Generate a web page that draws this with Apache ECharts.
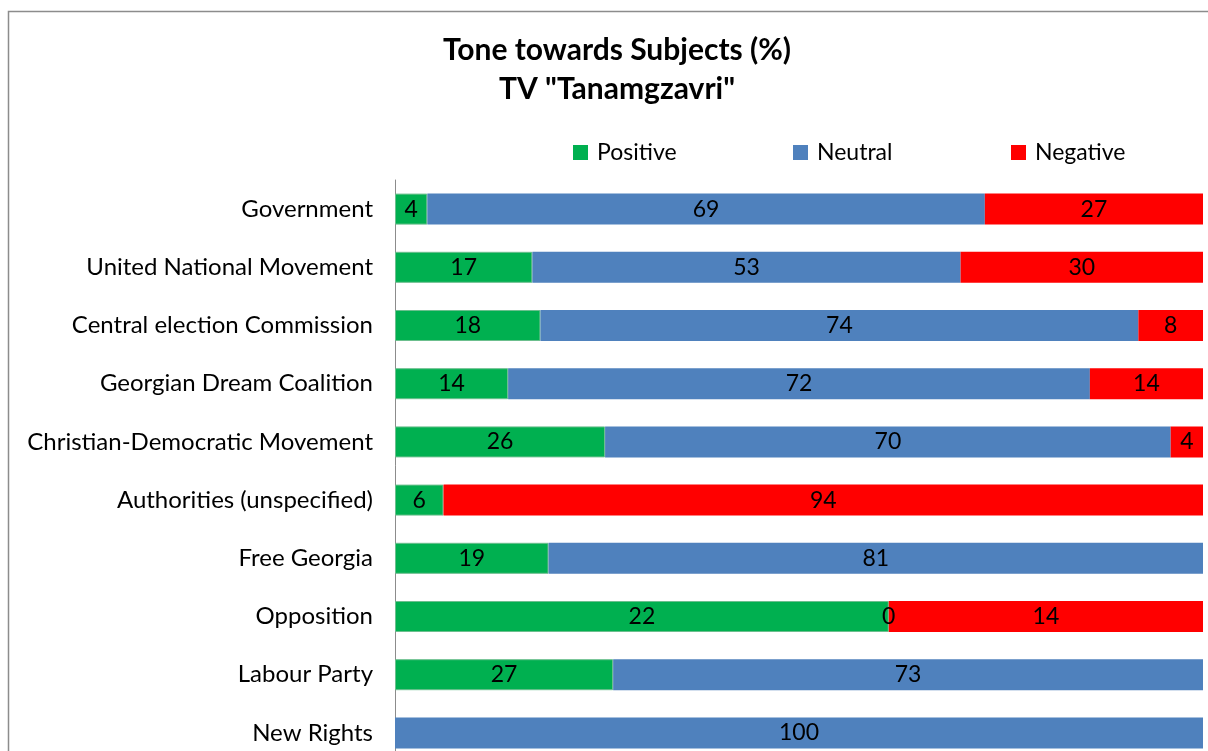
<!DOCTYPE html>
<html><head><meta charset="utf-8">
<script src="https://cdn.jsdelivr.net/npm/echarts@6/dist/echarts.min.js"></script>
<style>html,body{margin:0;padding:0;background:#fff}#c{width:1208px;height:751px}</style>
</head><body><div id="c"></div>
<script>
const categories = ["Government","United National Movement","Central election Commission","Georgian Dream Coalition","Christian-Democratic Movement","Authorities (unspecified)","Free Georgia","Opposition","Labour Party","New Rights"];
const positive = [4,17,18,14,26,6,19,22,27,null];
const neutral  = [69,53,74,72,70,null,81,0,73,100];
const negative = [27,30,8,14,4,94,null,14,null,null];
const seriesNames = ["Positive","Neutral","Negative"];
const colors = ["#00B050","#4F81BD","#FF0000"];
const borders = ["#6cbf8e", null, null];

const raw = [positive, neutral, negative];
const totals = categories.map((_, i) => raw.reduce((s, arr) => s + (arr[i] || 0), 0));
const font = "Lato, 'Open Sans', sans-serif";

const chart = echarts.init(document.getElementById('c'));
chart.setOption({
  animation: false,
  title: {
    text: 'Tone towards Subjects (%)\nTV "Tanamgzavri"',
    left: 612, top: 26, textAlign: 'center',
    textStyle: {fontFamily: font, fontSize: 30, fontWeight: 'bold', color: '#000', lineHeight: 39}
  },
  graphic: [{type:'rect', shape:{x:8.5, y:11.5, width:1300, height:800}, style:{fill:'none', stroke:'#8c8c8c', lineWidth:1.5}, silent:true, z:-1}],
  legend: seriesNames.map((n, k) => ({
    data: [n], left: [573, 793, 1011][k], top: 141, itemWidth: 15, itemHeight: 15, icon: 'rect', padding: 0,
    itemStyle: {borderWidth: 0},
    textStyle: {fontFamily: font, fontSize: 23, color: '#000', padding: [0,0,0,4]}
  })),
  grid: {left: 395, right: 5, top: 180, height: 582, outerBoundsMode: 'none', containLabel: false},
  xAxis: {type: 'value', min: 0, max: 100, show: false},
  yAxis: {
    type: 'category', data: categories, inverse: true,
    axisLine: {show: true, lineStyle: {color: '#8c8c8c', width: 1}},
    axisTick: {show: false},
    axisLabel: {fontFamily: font, fontSize: 24, color: '#000', margin: 22}
  },
  series: seriesNames.map((n, k) => ({
    name: n, type: 'bar', stack: 'all', barWidth: 31,
    itemStyle: borders[k] ? {color: colors[k], borderColor: borders[k], borderWidth: 1} : {color: colors[k]},
    label: {show: true, position: 'inside', fontFamily: font, fontSize: 23, color: '#000',
      formatter: p => p.data.raw},
    data: raw[k].map((v, i) => v == null ? {value: null, raw: ''} : {value: v / totals[i] * 100, raw: v})
  }))
});
</script></body></html>
